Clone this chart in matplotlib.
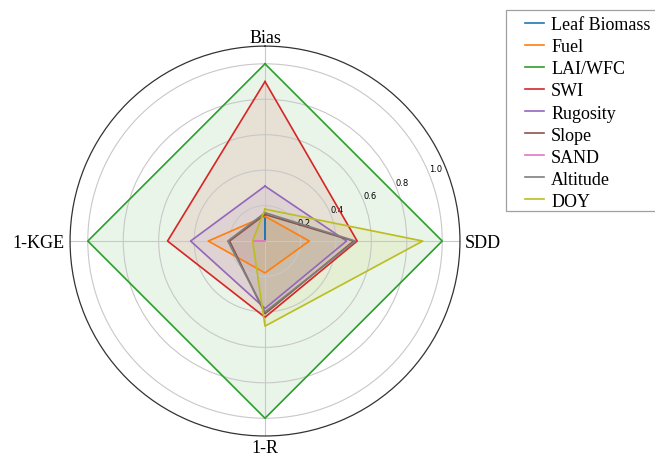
import numpy as np
import matplotlib.pyplot as plt
from matplotlib.patches import Rectangle

# Data
categories = ['Bias', 'SDD', '1-R', '1-KGE']
names = ['Leaf Biomass', 'Fuel', 'LAI/WFC', 'SWI', 'Rugosity', 'Slope', 'SAND', 'Altitude', 'DOY']
leaf_biomass = [0.14, 0.0, 0.0, 0.0]
fuel = [0.14, 0.25, 0.18, 0.32]
lai_wfc = [1.0, 1.0, 1.0, 1.0]
swi = [0.90, 0.52, 0.43, 0.55]
rugosity = [0.31, 0.46, 0.38, 0.42]
slope = [0.15, 0.50, 0.41, 0.20]
sand = [0.0, 0.0, 0.0, 0.07]
altitude = [0.16, 0.51, 0.40, 0.21]
doy = [0.18, 0.89, 0.48, 0.07]
series = [leaf_biomass, fuel, lai_wfc, swi, rugosity, slope, sand, altitude, doy]

angles = np.linspace(0, 2 * np.pi, len(categories), endpoint=False).tolist()
angles += angles[:1]

fig = plt.figure(figsize=(6.55, 4.56), dpi=100)
ax = fig.add_axes([0.1069, 0.0417, 0.5954, 0.855], projection='polar')
ax.set_theta_offset(np.pi / 2)
ax.set_theta_direction(-1)

for name, vals in zip(names, series):
    v = list(vals) + vals[:1]
    line, = ax.plot(angles, v, linewidth=1.2, label=name)
    ax.fill(angles, v, color=line.get_color(), alpha=0.1)

rmax = 1.1
ax.set_ylim(0, rmax)
ax.set_yticks([0.2, 0.4, 0.6, 0.8, 1.0])
ax.set_yticklabels(['0.2', '0.4', '0.6', '0.8', '1.0'], fontsize=6)
ax.set_rlabel_position(67.5)
ax.set_xticks(angles[:-1])
ax.set_xticklabels([])
ax.grid(color='#c8c8c8', linewidth=0.8)
ax.spines['polar'].set_linewidth(0.9)
ax.spines['polar'].set_color('#333333')

# category labels just outside the circle
offsets = {'Bias': ((0, 3.2), 'center'), 'SDD': ((3.6, -4.3), 'left'),
           '1-R': ((0, -11.3), 'center'), '1-KGE': ((-4.3, -4.3), 'right')}
for ang, cat in zip(angles[:-1], categories):
    off, ha = offsets[cat]
    ax.annotate(cat, xy=(ang, rmax), xytext=off, textcoords='offset points',
                ha=ha, va='baseline', family='Liberation Serif', fontsize=13,
                annotation_clip=False)

fig.legend(loc='upper left', bbox_to_anchor=(525 / 655, 1 - 17.3 / 456),
           prop={'family': 'Liberation Serif', 'size': 13},
           labelspacing=0.28, handlelength=1.05, handletextpad=0.4,
           frameon=False, borderaxespad=0, borderpad=0)
fig.patches.append(Rectangle((506 / 655, 1 - 211.5 / 456), 0.3, 200.5 / 456,
                             transform=fig.transFigure, fill=False,
                             edgecolor='#a0a0a0', linewidth=0.9))

fig.savefig('out.png', dpi=100)
